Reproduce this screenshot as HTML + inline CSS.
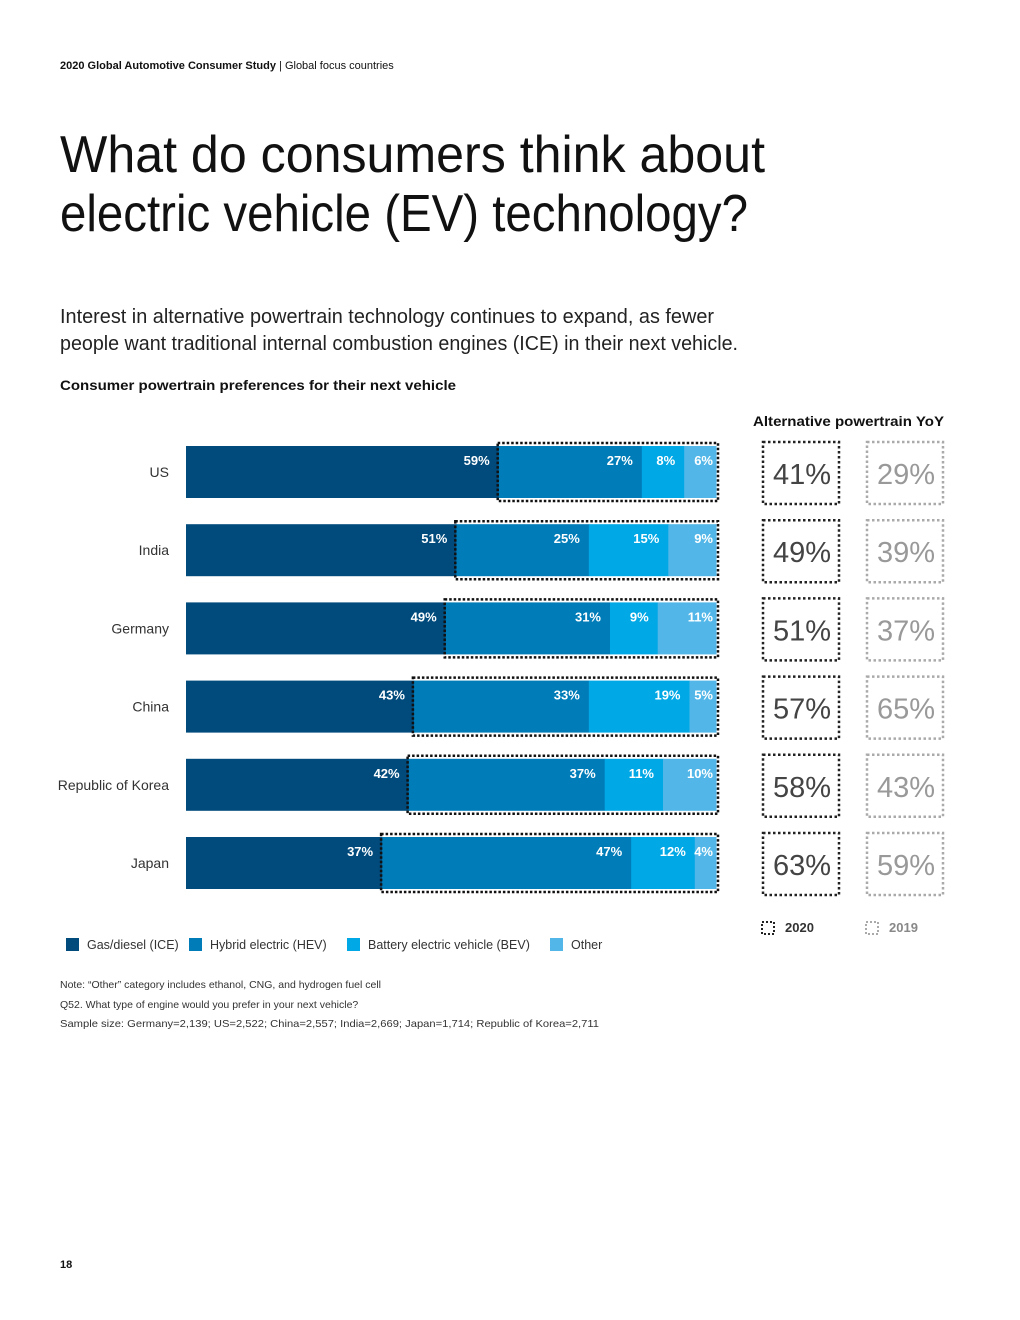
<!DOCTYPE html>
<html><head><meta charset="utf-8">
<style>
html,body{margin:0;padding:0;background:#fff;}
svg{display:block;font-family:"Liberation Sans",sans-serif;}
</style></head>
<body>
<svg id="page" width="1020" height="1320" viewBox="0 0 1020 1320">
<text x="60" y="69" font-size="11" fill="#111"><tspan font-weight="bold">2020 Global Automotive Consumer Study</tspan> | Global focus countries</text>
<text x="60" y="172" font-size="52" fill="#111" textLength="705" lengthAdjust="spacingAndGlyphs">What do consumers think about</text>
<text x="60" y="231" font-size="52" fill="#111" textLength="688" lengthAdjust="spacingAndGlyphs">electric vehicle (EV) technology?</text>
<text x="60" y="323" font-size="20" fill="#222" textLength="654" lengthAdjust="spacingAndGlyphs">Interest in alternative powertrain technology continues to expand, as fewer</text>
<text x="60" y="350" font-size="20" fill="#222" textLength="678" lengthAdjust="spacingAndGlyphs">people want traditional internal combustion engines (ICE) in their next vehicle.</text>
<text x="60" y="390" font-size="14" font-weight="bold" fill="#111" textLength="396" lengthAdjust="spacingAndGlyphs">Consumer powertrain preferences for their next vehicle</text>
<text x="753" y="426" font-size="14" font-weight="bold" fill="#111" textLength="191" lengthAdjust="spacingAndGlyphs">Alternative powertrain YoY</text>
<g id="bars"></g>
<g id="yoy"></g>
<g>
<rect x="66" y="938" width="13" height="13" fill="#004a7c"/>
<text x="87" y="949" font-size="12.5" fill="#333">Gas/diesel (ICE)</text>
<rect x="189" y="938" width="13" height="13" fill="#007cb8"/>
<text x="210" y="949" font-size="12.5" fill="#333">Hybrid electric (HEV)</text>
<rect x="347" y="938" width="13" height="13" fill="#00a8e6"/>
<text x="368" y="949" font-size="12.5" fill="#333">Battery electric vehicle (BEV)</text>
<rect x="550" y="938" width="13" height="13" fill="#52b7e8"/>
<text x="571" y="949" font-size="12.5" fill="#333">Other</text>
</g>
<g>
<rect x="762" y="922" width="12" height="12" fill="none" stroke="#222" stroke-width="2" stroke-dasharray="2 2"/>
<text x="785" y="932" font-size="13" font-weight="bold" fill="#333">2020</text>
<rect x="866" y="922" width="12" height="12" fill="none" stroke="#aaa" stroke-width="2" stroke-dasharray="2 2"/>
<text x="889" y="932" font-size="13" font-weight="bold" fill="#888">2019</text>
</g>
<g font-size="10.5" fill="#333">
<text x="60" y="988">Note: “Other” category includes ethanol, CNG, and hydrogen fuel cell</text>
<text x="60" y="1008">Q52. What type of engine would you prefer in your next vehicle?</text>
<text x="60" y="1027" textLength="539" lengthAdjust="spacingAndGlyphs">Sample size: Germany=2,139; US=2,522; China=2,557; India=2,669; Japan=1,714; Republic of Korea=2,711</text>
</g>
<text x="60" y="1268" font-size="11" font-weight="bold" fill="#111">18</text>
</svg>
<script>
const countries = ["US","India","Germany","China","Republic of Korea","Japan"];
const ice = [59,51,49,43,42,37];
const hev = [27,25,31,33,37,47];
const bev = [8,15,9,19,11,12];
const other = [6,9,11,5,10,4];
const yoy2020 = [41,49,51,57,58,63];
const yoy2019 = [29,39,37,65,43,59];

const NS = "http://www.w3.org/2000/svg";
const X0 = 186, W = 530, ROW0 = 446, STEP = 78.2, BH = 52;
const xs = v => v / 100 * W;
const rowY = i => ROW0 + i * STEP;
const colors = ["#004a7c","#007cb8","#00a8e6","#52b7e8"];
const series = [ice, hev, bev, other];
const segNames = ["ice","hev","bev","other"];
function mk(tag, attrs, parent){const e=document.createElementNS(NS,tag);for(const k in attrs)e.setAttribute(k,attrs[k]);parent.appendChild(e);return e;}
const bars = document.getElementById('bars');
countries.forEach((c,i)=>{
  const y = rowY(i);
  const lab = mk('text',{x:169,y:y+BH/2+5,'font-size':14,fill:'#333','text-anchor':'end'},bars);
  lab.textContent = c;
  
  
  const total = series.reduce((s,a)=>s+a[i],0);
  let acc = 0;
  series.forEach((arr,k)=>{
    const x = X0 + xs(acc/total*100);
    const w = xs(arr[i]/total*100);
    const r = mk('rect',{x:x,y:y,width:w+0.5,height:BH,fill:colors[k]},bars);
    
    
    const t = mk('text',{x:x+w-(k===3?3:9),y:y+19,'font-size':13,'font-weight':'bold',fill:'#fff','text-anchor':'end'},bars);
    t.textContent = arr[i] + '%';
    
    
    acc += arr[i];
  });
  const ax = X0 + xs(ice[i]/total*100);
  const box = mk('rect',{x:ax-1,y:y-3,width:X0+W+3-ax,height:BH+6,fill:'none',stroke:'#111','stroke-width':2.5,'stroke-dasharray':'2.5 2'},bars);
  
  
});
const yoy = document.getElementById('yoy');
countries.forEach((c,i)=>{
  const cy = rowY(i) + BH/2 + 1;
  [[yoy2020,763,'#222','#444','yoy-2020'],[yoy2019,867,'#aaa','#999','yoy-2019']].forEach(([arr,x,st,tf,nm])=>{
    const b = mk('rect',{x:x,y:cy-31,width:76,height:62,fill:'none',stroke:st,'stroke-width':2.5,'stroke-dasharray':'2.5 2.5'},yoy);
    
    
    const t = mk('text',{x:x+39,y:cy+11,'font-size':29,fill:tf,'text-anchor':'middle'},yoy);
    t.textContent = arr[i] + '%';
    
    
  });
});
</script>
</body></html>
